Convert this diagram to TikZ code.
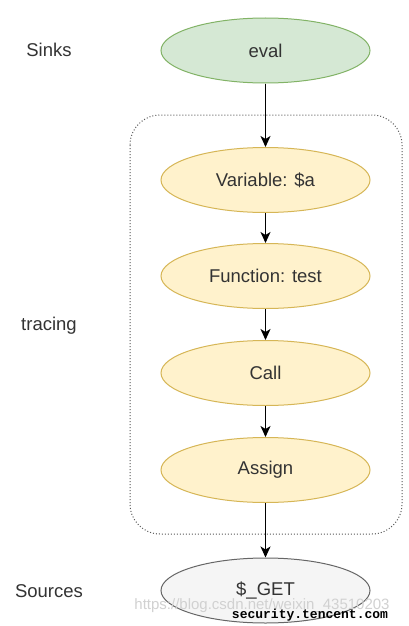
\documentclass[tikz,border=0pt]{standalone}
\usepackage{fontspec}
\setmainfont{Liberation Sans}
\newfontfamily\wmmono{Liberation Mono}
\usetikzlibrary{shapes.geometric,arrows.meta}
\definecolor{gfill}{HTML}{D5E8D4}
\definecolor{gline}{HTML}{82B366}
\definecolor{yfill}{HTML}{FFF2CC}
\definecolor{yline}{HTML}{D6B656}
\definecolor{sfill}{HTML}{F5F5F5}
\definecolor{sline}{HTML}{666666}
\definecolor{txt}{HTML}{333333}
\tikzset{
  x=1pt,y=-1pt,
  oval/.style={ellipse,minimum width=209pt,minimum height=65pt,inner sep=0pt,line width=1pt,text=txt,font=\fontsize{18.5}{21}\selectfont},
  sinknode/.style={oval,fill=gfill,draw=gline},
  tracenode/.style={oval,fill=yfill,draw=yline},
  srcnode/.style={oval,fill=sfill,draw=sline},
  lbl/.style={text=txt,font=\fontsize{18.5}{21}\selectfont},
  flow/.style={-{Stealth[length=11pt,width=10pt,inset=3pt]},line width=1.5pt,black},
  group/.style={draw=black!65,dotted,line width=1pt,rounded corners=30pt}
}
\begin{document}
\begin{tikzpicture}
\useasboundingbox (0,0) rectangle (408,626);
\fill[white] (0,0) rectangle (408,626);
\draw[group] (130,115) rectangle (402,534);
\node[sinknode] (eval) at (265.5,50.5) {eval};
\node[tracenode] (var) at (265.5,180) {Variable: \$a};
\node[tracenode] (func) at (265.5,276) {Function: test};
\node[tracenode] (call) at (265.5,373) {Call};
\node[tracenode] (assign) at (265.5,470) {Assign};
\node[srcnode] (get) at (265.5,590.5) {\$\_GET};
\node[lbl] (sinks) at (49,50) {Sinks};
\node[lbl] (tracing) at (49,326) {tracing};
\node[lbl] (sources) at (49,591) {Sources};
\draw[flow] (eval) -- (var);
\draw[flow] (var) -- (func);
\draw[flow] (func) -- (call);
\draw[flow] (call) -- (assign);
\draw[flow] (assign) -- (get);
\node[text=black!18,font=\fontsize{15}{17}\selectfont,inner sep=0pt] (wm1) at (262,606) {https://blog.csdn.net/weixin\_43510203};
\node[text=black,font=\wmmono\bfseries\fontsize{13}{15}\selectfont,inner sep=0pt] (wm2) at (310,615) {security.tencent.com};
\end{tikzpicture}
\end{document}
